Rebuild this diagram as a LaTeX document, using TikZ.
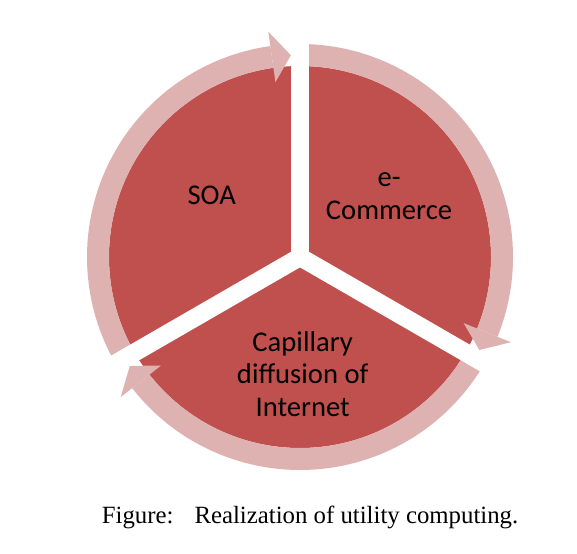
\documentclass[tikz,border=0pt]{standalone}
\usepackage{fontspec}
\setmainfont{Liberation Serif}
\newfontfamily\labelfont{Carlito}
\definecolor{segred}{RGB}{192,80,77}
\definecolor{ringpink}{RGB}{222,178,177}
\tikzset{
  segment/.style={fill=segred},
  ringarrow/.style={fill=ringpink},
  gapline/.style={draw=white, line width=18pt},
  seglabel/.style={font=\labelfont\fontsize{28.6}{32.5}\selectfont, align=center, text=black},
}
\begin{document}
\begin{tikzpicture}[x=1pt,y=1pt]
    % the page and the middle of the cycle
    \useasboundingbox (0,0) rectangle (577,553);
    \coordinate (hub) at (300,296);
    \begin{scope}[shift={(hub)}]
        % the three segments, as one disk
        \fill[segment] (0,0) circle (191);
        % the arrows round it
        \foreach \a in {90,-30,210} {
            \fill[ringarrow] (\a:213) arc[start angle=\a, end angle=\a-112, radius=213]
                -- (\a-112:191) arc[start angle=\a-112, end angle=\a, radius=191] -- cycle;
            \fill[ringarrow] (\a-112:176.5) -- (\a-117.4:202) -- (\a-112:227.5) -- cycle;
        }
        % the white gaps between the segments
        \foreach \a in {90,-30,210}
            \draw[gapline] (0,0) -- (\a:240);
        \fill[white] (0,0) circle (9);
    \end{scope}
    % the segment labels
    \node[seglabel] (soa) at (211.7,358) {SOA};
    \node[seglabel] (ecommerce) at (389,357) {e-\\Commerce};
    \node[seglabel] (internet) at (302.7,179) {Capillary\\diffusion of\\Internet};
    % the caption
    \node[anchor=base west, inner sep=0, font=\fontsize{24.8}{30}\selectfont] (caption) at (101.7,29)
        {Figure:\hspace{21pt}Realization of utility computing.};
\end{tikzpicture}
\end{document}
